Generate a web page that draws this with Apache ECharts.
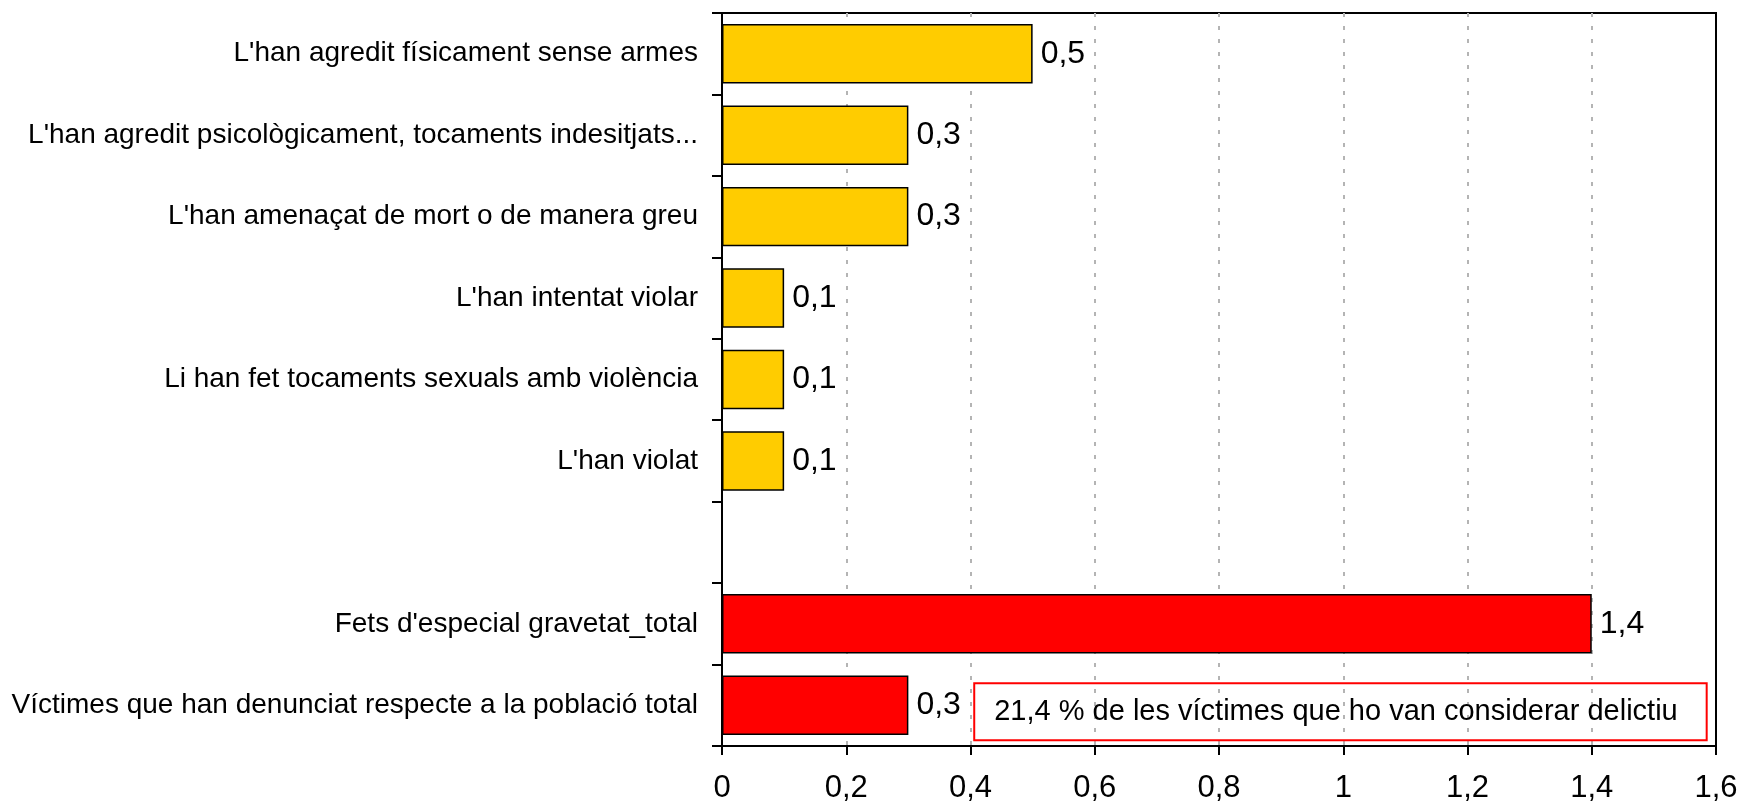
<!DOCTYPE html>
<html>
<head>
<meta charset="utf-8">
<script src="https://cdn.jsdelivr.net/npm/echarts@6/dist/echarts.min.js"></script>
<style>
html, body { margin: 0; padding: 0; background: #fff; }
#mychart { width: 1742px; height: 804px; }
</style>
</head>
<body>
<div id="mychart"></div>
<script>
// categories top to bottom (one empty row separates the totals)
var categories = [
	"L'han agredit físicament sense armes",
	"L'han agredit psicològicament, tocaments indesitjats...",
	"L'han amenaçat de mort o de manera greu",
	"L'han intentat violar",
	"Li han fet tocaments sexuals amb violència",
	"L'han violat",
	"",
	"Fets d'especial gravetat_total",
	"Víctimes que han denunciat respecte a la població total"
];
var values = [0.5, 0.3, 0.3, 0.1, 0.1, 0.1, null, 1.4, 0.3];
// rows drawn in red
var totalRows = ["Fets d'especial gravetat_total", "Víctimes que han denunciat respecte a la població total"];
var xTicks = [0, 1.6, 0.2];
var noteText = '21,4 % de les víctimes que ho van considerar delictiu';

var font = "'Liberation Sans', Arial, sans-serif";

function coma(v) {
	return String(v).replace('.', ',');
}

var myChart = echarts.init(document.getElementById('mychart'));
var option = {
	animation: false,
	backgroundColor: '#fff',
	grid: {
		left: 722,
		right: 26,
		top: 13,
		bottom: 56,
		show: true,
		borderColor: '#000',
		borderWidth: 2
	},
	xAxis: {
		type: 'value',
		min: xTicks[0],
		max: xTicks[1],
		interval: xTicks[2],
		axisLine: { show: true, lineStyle: { color: '#000', width: 2 } },
		axisTick: { show: true, length: 9, lineStyle: { color: '#000', width: 2 } },
		axisLabel: {
			margin: 27,
			color: '#000',
			fontFamily: font,
			fontSize: 31,
			formatter: function(v) { return coma(Math.round(v * 10) / 10); }
		},
		splitLine: {
			show: true,
			showMinLine: false,
			showMaxLine: false,
			lineStyle: { color: '#b4b4b4', width: 2, type: [4, 9] }
		}
	},
	yAxis: {
		type: 'category',
		inverse: true,
		data: categories,
		axisLine: { show: true, lineStyle: { color: '#000', width: 2 } },
		axisTick: { show: true, length: 10, lineStyle: { color: '#000', width: 2 } },
		axisLabel: {
			margin: 24,
			color: '#000',
			fontFamily: font,
			fontSize: 28
		},
		splitLine: { show: false }
	},
	series: [{
		type: 'bar',
		data: values,
		barCategoryGap: '27%',
		itemStyle: {
			borderColor: '#000',
			borderWidth: 1.5,
			color: function(p) {
				return totalRows.indexOf(categories[p.dataIndex]) >= 0 ? '#ff0000' : '#ffcc00';
			}
		},
		label: {
			show: true,
			position: 'right',
			distance: 8,
			color: '#000',
			fontFamily: font,
			fontSize: 32,
			formatter: function(p) { return coma(p.value); }
		}
	}]
};
myChart.setOption(option);

// note box in the last row, placed with the chart's own scales
var lastRow = categories[categories.length - 1];
var p0 = myChart.convertToPixel({ gridIndex: 0 }, [0.406, lastRow]);
var p1 = myChart.convertToPixel({ gridIndex: 0 }, [1.585, lastRow]);
myChart.setOption({
	graphic: [{
		type: 'rect',
		shape: { x: p0[0], y: p0[1] - 22, width: p1[0] - p0[0], height: 57 },
		style: { fill: 'none', stroke: '#ff0000', lineWidth: 2 },
		z: 10
	}, {
		type: 'text',
		x: p0[0] + 20,
		y: p0[1] + 7,
		style: {
			text: noteText,
			fill: '#000',
			font: '29px ' + font,
			verticalAlign: 'middle'
		},
		z: 11
	}]
});
</script>
</body>
</html>
